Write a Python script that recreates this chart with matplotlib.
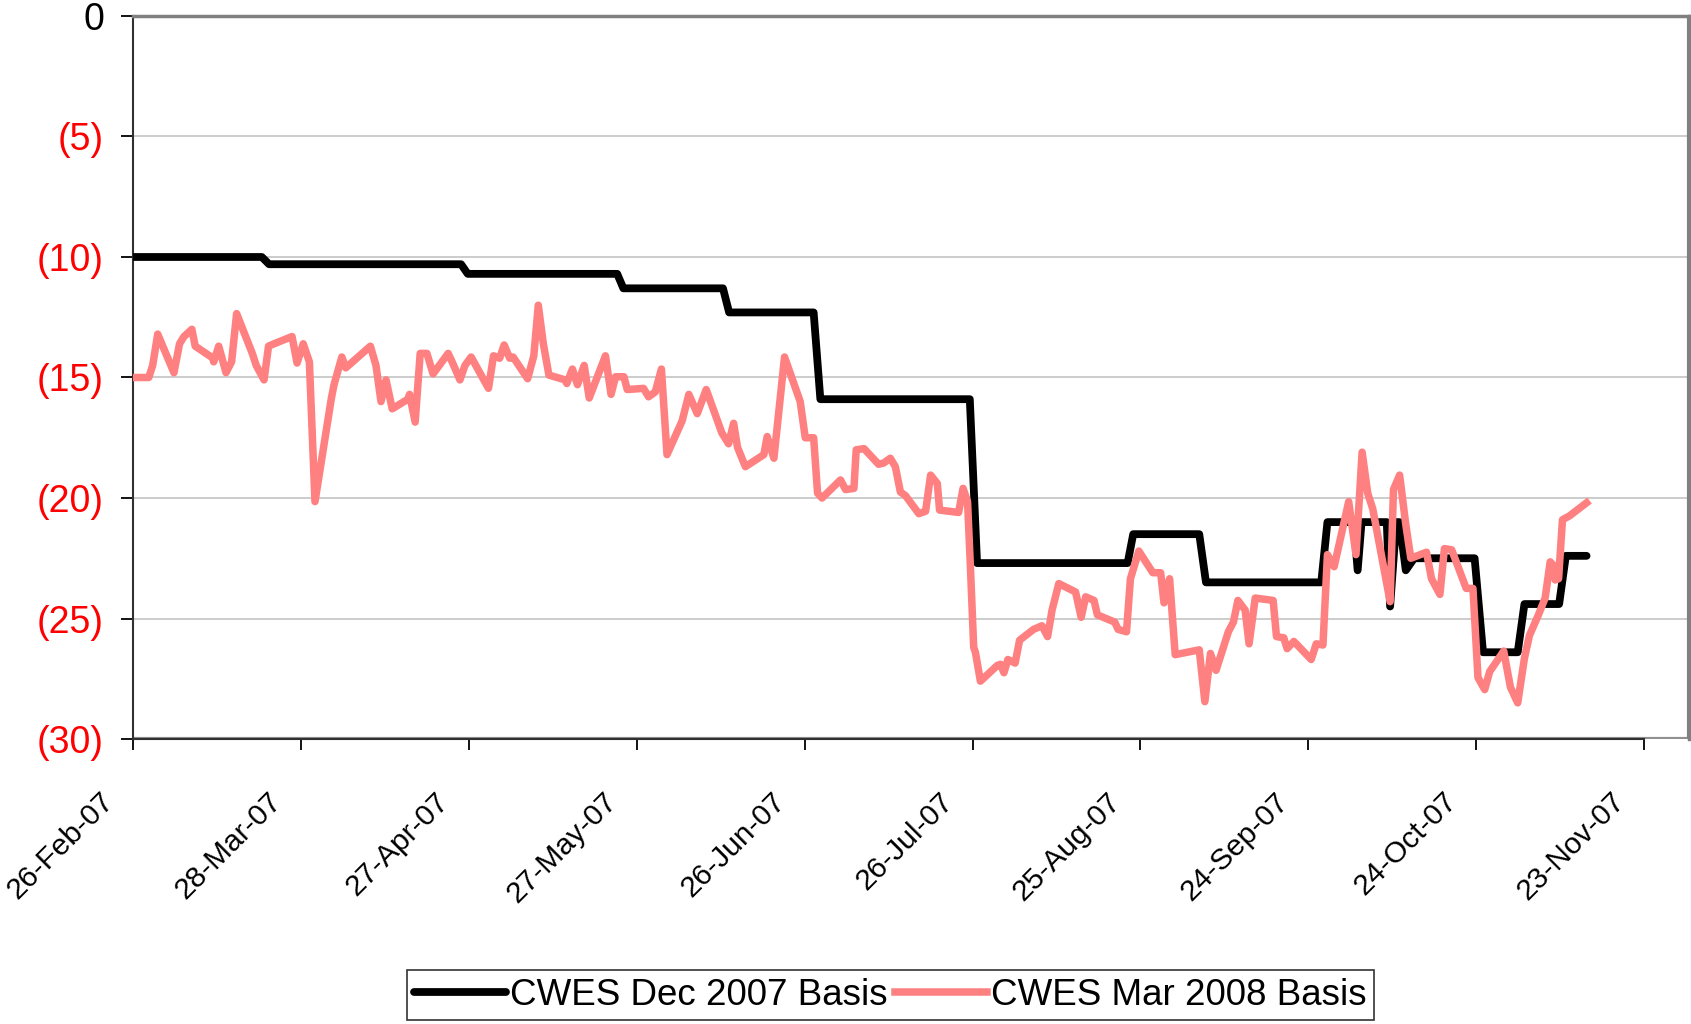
import matplotlib
matplotlib.use("Agg")
import matplotlib.pyplot as plt
import matplotlib.dates as mdates
import matplotlib.transforms as mtransforms
import pandas as pd

# day offsets from 26-Feb-07 and basis values
start = pd.Timestamp("2007-02-26")

dec_days = [0, 23.0, 24.3, 58.6, 59.8, 86.5, 87.6, 105.4, 106.5, 121.6, 122.8,
            149.5, 150.8, 177.7, 178.7, 190.5, 191.7, 212.3, 213.4, 218.1, 218.8,
            219.5, 224.0, 224.6, 225.7, 226.3, 227.4, 228.9, 239.7, 241.2, 247.4,
            248.6, 254.8, 256.0, 259.7]
dec_vals = [-10.0, -10.0, -10.3, -10.3, -10.7, -10.7, -11.3, -11.3, -12.3, -12.3, -15.9,
            -15.9, -22.7, -22.7, -21.5, -21.5, -23.5, -23.5, -21.0, -21.0, -23.0,
            -21.0, -21.0, -24.5, -21.0, -21.0, -23.0, -22.5, -22.5, -26.4, -26.4,
            -24.4, -24.4, -22.4, -22.4]

mar_days = [0.0, 2.8, 3.5, 4.4, 7.3, 8.3, 9.1, 10.5, 11.1, 14.3, 14.4, 15.3, 16.6, 17.6,
            18.5, 21.3, 22.0, 23.4, 24.2, 25.2, 28.4, 29.3, 30.4, 31.5, 32.5, 35.4, 35.9,
            37.3, 38.0, 42.4, 43.4, 44.3, 45.2, 46.3, 49.1, 49.4, 50.4, 51.3, 52.5, 53.6,
            56.3, 57.1, 58.4, 59.3, 60.4, 63.5, 64.4, 65.5, 66.3, 67.3, 67.9, 70.5, 71.6,
            72.4, 73.3, 74.3, 77.2, 77.5, 78.5, 79.4, 80.6, 81.5, 84.4, 85.4, 86.2, 87.7,
            88.3, 91.2, 92.1, 93.3, 94.4, 95.4, 98.1, 99.3, 100.8, 102.4, 105.2, 106.4,
            107.3, 108.0, 109.4, 112.7, 113.3, 114.5, 116.4, 119.2, 120.1, 121.6, 122.3,
            123.1, 126.4, 127.3, 128.8, 129.2, 130.6, 133.2, 134.1, 135.3, 136.2, 137.1,
            138.0, 140.4, 141.6, 142.5, 143.7, 144.1, 147.5, 148.3, 149.1, 149.6, 150.2,
            150.5, 151.4, 154.4, 155.0, 155.6, 156.3, 157.6, 158.4, 160.9, 162.4, 163.4,
            164.2, 165.4, 168.4, 169.4, 170.2, 171.7, 172.3, 175.4, 176.0, 177.5, 178.2,
            179.7, 182.2, 183.6, 184.2, 185.2, 186.2, 190.5, 191.5, 192.5, 193.5, 195.7,
            196.6, 197.4, 198.7, 199.4, 200.5, 203.7, 204.3, 205.6, 206.2, 207.4, 210.5,
            211.4, 212.6, 213.4, 214.6, 217.2, 218.5, 219.6, 220.6, 221.5, 224.6, 225.2,
            226.3, 227.4, 228.3, 231.1, 232.0, 233.5, 234.3, 235.6, 238.2, 239.4, 240.3,
            241.5, 242.4, 244.9, 246.1, 247.4, 248.6, 249.5, 251.1, 252.3, 253.2, 253.8,
            254.1, 254.7, 255.4, 256.6, 259.7]
mar_vals = [-15.0, -15.0, -14.5, -13.2, -14.8, -13.6, -13.3, -13.0, -13.7, -14.2, -14.35,
            -13.7, -14.8, -14.35, -12.35, -14.0, -14.5, -15.1, -13.7, -13.6, -13.3, -14.4,
            -13.6, -14.35, -20.15, -15.9, -15.3, -14.15, -14.6, -13.7, -14.5, -16.0, -15.1,
            -16.3, -15.9, -15.7, -16.85, -14.0, -14.0, -14.85, -14.0, -14.4, -15.1, -14.5,
            -14.15, -15.45, -14.1, -14.2, -13.65, -14.2, -14.15, -15.05, -14.1, -12.0,
            -13.6, -14.9, -15.1, -15.25, -14.65, -15.3, -14.5, -15.85, -14.1, -15.7,
            -14.97, -14.97, -15.5, -15.45, -15.8, -15.6, -14.65, -18.2, -16.8, -15.7,
            -16.5, -15.5, -17.3, -17.75, -16.9, -17.9, -18.7, -18.2, -17.45, -18.35,
            -14.15, -16.0, -17.5, -17.5, -19.8, -20.0, -19.25, -19.65, -19.6, -18.0,
            -17.95, -18.6, -18.55, -18.35, -18.7, -19.75, -19.9, -20.65, -20.55, -19.05,
            -19.4, -20.5, -20.6, -19.6, -20.15, -22.8, -26.2, -26.4, -27.6, -26.95, -26.9,
            -27.25, -26.7, -26.85, -25.9, -25.45, -25.3, -25.75, -24.65, -23.55, -23.9,
            -24.95, -24.1, -24.25, -24.85, -25.15, -25.45, -25.55, -23.35, -22.2, -23.1,
            -23.1, -24.35, -23.35, -26.5, -26.3, -28.45, -26.45, -27.15, -25.55, -25.15,
            -24.25, -24.65, -26.05, -24.15, -24.25, -25.75, -25.8, -26.25, -25.95, -26.7,
            -26.05, -26.1, -22.35, -22.85, -20.15, -22.35, -18.1, -19.8, -20.45, -24.3,
            -19.65, -19.05, -21.1, -22.5, -22.25, -23.35, -24.0, -22.1, -22.15, -23.75,
            -23.75, -27.45, -27.95, -27.2, -26.35, -27.85, -28.5, -26.65, -25.7, -24.85,
            -24.15, -22.65, -22.8, -23.4, -23.35, -20.9, -20.75, -20.2]

y_ticks = [0, -5, -10, -15, -20, -25, -30]
y_labels = ["0", "(5)", "(10)", "(15)", "(20)", "(25)", "(30)"]

plt.rcParams["font.family"] = ["Liberation Sans", "DejaVu Sans"]

dec_dates = start + pd.to_timedelta(dec_days, unit="D")
mar_dates = start + pd.to_timedelta(mar_days, unit="D")

fig = plt.figure(figsize=(16.91, 10.24), dpi=100)
ax = fig.add_axes([0.0787, 0.2783, 0.9201, 0.7061])

ax.plot(dec_dates, dec_vals, color="black", lw=5.6, solid_capstyle="round",
        solid_joinstyle="round", label="CWES Dec 2007 Basis", zorder=3)
ax.plot(mar_dates, mar_vals, color="#FF8080", lw=5.4, solid_joinstyle="round",
        label="CWES Mar 2008 Basis", zorder=4)

# axes limits and ticks
ax.set_ylim(-30, 0)
ax.set_xlim(start, start + pd.Timedelta(days=278))
xticks = [start + pd.Timedelta(days=30 * i) for i in range(10)]
ax.set_xticks(xticks)
ax.xaxis.set_major_formatter(mdates.DateFormatter("%d-%b-%y"))
ax.set_yticks(y_ticks)
ax.set_yticklabels(y_labels, fontsize=27)
for lab, val in zip(ax.get_yticklabels(), y_ticks):
    lab.set_color("black" if val == 0 else "red")

ax.tick_params(axis="y", direction="out", length=9, width=1.3, pad=12)
ax.tick_params(axis="x", direction="out", length=8, width=1.3, labelsize=21.5)

offset = mtransforms.ScaledTranslation(-24 / 100, -42 / 100, fig.dpi_scale_trans)
for lab in ax.get_xticklabels():
    lab.set_rotation(45)
    lab.set_ha("right")
    lab.set_va("center")
    lab.set_rotation_mode("anchor")
    lab.set_transform(lab.get_transform() + offset)

# gridlines and frame
ax.grid(axis="y", color="#c8c8c8", lw=1.3)
ax.set_axisbelow(True)
for side in ["top", "right"]:
    ax.spines[side].set_color("#808080")
    ax.spines[side].set_linewidth(2.5)
ax.spines["left"].set_color("#303030")
ax.spines["left"].set_linewidth(1.5)
ax.spines["bottom"].set_color("#303030")
ax.spines["bottom"].set_linewidth(1.5)
ax.spines["bottom"].set_bounds(mdates.date2num(xticks[0]), mdates.date2num(xticks[-1]))
ax.axhline(-30, color="#909090", lw=3, zorder=1)
ax.axvline(start + pd.Timedelta(days=278), color="#808080", lw=3)

leg = fig.legend(loc="center", bbox_to_anchor=(0.5265, 0.028), ncol=2, fontsize=26.5,
                 frameon=True, fancybox=False, edgecolor="black", handlelength=2.5,
                 handletextpad=0.1, columnspacing=0.2, borderpad=0.2, borderaxespad=0)
leg.get_frame().set_linewidth(1.2)

fig.savefig("out.png", dpi=100)
